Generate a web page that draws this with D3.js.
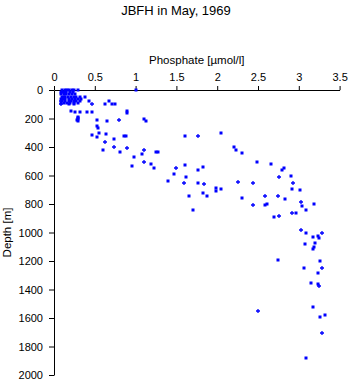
<!DOCTYPE html>
<html>
<head>
<meta charset="utf-8">
<script src="https://cdn.jsdelivr.net/npm/d3@7"></script>
<style>
  html, body { margin: 0; padding: 0; background: #fff; }
  svg { display: block; }
  text { font-family: "Liberation Sans", Arial, Helvetica, sans-serif; }
</style>
</head>
<body>
<svg id="chart" width="350" height="384"></svg>
<script>
// ---- Data (phosphate µmol/l, depth m) ----
const title = "JBFH in May, 1969";
const xLabel = "Phosphate [\u00B5mol/l]";
const yLabel = "Depth [m]";
const xTicks = [0, 0.5, 1, 1.5, 2, 2.5, 3, 3.5];
const xTickLabels = ["0", "0.5", "1", "1.5", "2", "2.5", "3", "3.5"];
const yTicks = [0, 200, 400, 600, 800, 1000, 1200, 1400, 1600, 1800, 2000];
const yTickLabels = ["0", "200", "400", "600", "800", "1000", "1200", "1400", "1600", "1800", "2000"];

// cast A (square markers)
const phosA = [
  0.10,0.13,0.16,0.18,0.22,0.25,0.29,
  0.09,0.11,0.13,0.15,0.20,0.23,
  0.09,0.12,0.15,0.18,0.22,0.26,
  0.10,0.12,0.14,0.17,0.21,0.24,0.27,0.32,
  0.09,0.11,0.14,0.18,0.22,0.26,0.29,0.33,
  0.10,0.14,0.18,0.21,0.24,0.27,0.32,
  0.09,0.12,0.16,0.19,0.24,0.29,
  0.18,0.24,
  1.00,0.38,0.43,0.67,0.62,0.71,0.75,
  0.21,0.26,0.32,0.41,0.47,
  0.29,0.29,0.30,0.28,0.29,
  0.53,0.65,0.89,0.89,1.10,1.13,
  0.53,0.54,0.55,0.64,0.46,0.53,0.74,0.86,0.88,
  1.60,2.05,2.20,2.23,
  0.60,0.81,0.98,0.96,1.08,1.25,1.28,1.19,1.23,
  1.40,1.47,1.61,1.62,1.66,1.70,1.76,1.76,1.83,1.83,1.88,1.98,1.98,2.05,
  2.30,2.30,2.49,2.59,2.61,2.66,2.70,2.80,2.82,2.83,2.91,2.92,2.97,3.01,3.04,3.09,3.19,
  3.09,3.08,3.18,3.20,3.24,3.25,3.19,3.17,
  2.75,3.26,3.06,3.23,3.15,3.24,3.18,3.26,3.32,3.09
];
const depthA = [
  0,0,0,0,0,0,0,
  15,15,15,15,15,15,
  30,30,30,30,30,30,
  46,46,46,46,46,46,46,46,
  63,63,63,63,63,63,63,63,
  77,77,77,77,77,77,77,
  93,93,93,93,93,93,
  100,100,
  0,51,77,77,100,100,100,
  145,152,152,152,152,
  190,197,204,211,218,
  211,219,150,158,205,217,
  253,267,303,310,316,327,345,325,320,
  323,304,402,423,
  424,437,468,533,452,435,435,522,550,
  641,587,526,613,741,842,564,655,542,725,746,690,707,697,
  442,760,505,809,802,522,889,564,550,767,601,692,866,704,816,844,802,
  1006,1081,1034,1071,1027,1041,1104,1116,
  1196,1203,1252,1281,1351,1358,1526,1591,1582,1884
];

// cast B (plus markers)
const phosB = [
  0.08,0.09,0.47,0.80,0.62,1.77,
  0.74,0.89,1.10,1.10,1.49,1.59,1.84,
  2.26,2.44,2.44,2.58,2.76,2.76,2.75,2.93,2.92,3.03,
  3.03,3.28,3.28,3.25,2.50,3.28
];
const depthB = [
  77,100,100,211,365,323,
  402,407,418,508,550,655,662,
  648,655,809,746,884,612,746,655,866,788,
  985,1001,1252,1372,1554,1702
];

// ---- Chart ----
const svg = d3.select("#chart");
const color = "#0000ff";

const x = d3.scaleLinear().domain([0, 3.5]).range([54, 339.6]);
const y = d3.scaleLinear().domain([0, 2000]).range([90, 375]);

svg.append("text")
  .attr("x", 176).attr("y", 15)
  .attr("text-anchor", "middle")
  .attr("font-size", 13)
  .text(title);

svg.append("text")
  .attr("x", (x.range()[0] + x.range()[1]) / 2).attr("y", 64)
  .attr("text-anchor", "middle")
  .attr("font-size", 11.5)
  .text(xLabel);

svg.append("text")
  .attr("transform", `translate(11,${(y.range()[0] + y.range()[1]) / 2}) rotate(-90)`)
  .attr("text-anchor", "middle")
  .attr("font-size", 11.5)
  .text(yLabel);

const xAxis = d3.axisTop(x)
  .tickValues(xTicks)
  .tickFormat((d, i) => xTickLabels[i])
  .tickSizeInner(4).tickSizeOuter(0).tickPadding(5);
const gx = svg.append("g").attr("transform", "translate(0,90)").call(xAxis);

const yAxis = d3.axisLeft(y)
  .tickValues(yTicks)
  .tickFormat((d, i) => yTickLabels[i])
  .tickSizeInner(5).tickSizeOuter(0).tickPadding(6);
const gy = svg.append("g").attr("transform", "translate(54,0)").call(yAxis);

[gx, gy].forEach(g => {
  g.selectAll("text").attr("font-size", 11).attr("fill", "#000")
    .attr("font-family", "'Liberation Sans', Arial, sans-serif");
  g.selectAll("line,path").attr("stroke", "#000").attr("stroke-width", 1);
});

// square markers
const ptsA = phosA.map((v, i) => ({ v, d: depthA[i] }));
svg.append("g").selectAll("rect").data(ptsA).join("rect")
  .attr("x", p => Math.round(x(p.v)) - 1.5)
  .attr("y", p => Math.round(y(p.d)) - 1.5)
  .attr("width", 3).attr("height", 3)
  .attr("fill", color);

// plus markers
const ptsB = phosB.map((v, i) => ({ v, d: depthB[i] }));
svg.append("g").selectAll("path").data(ptsB).join("path")
  .attr("d", p => {
    const cx = Math.round(x(p.v)), cy = Math.round(y(p.d));
    return `M${cx - 2},${cy}H${cx + 2}M${cx},${cy - 2}V${cy + 2}`;
  })
  .attr("stroke", color).attr("stroke-width", 1.3).attr("fill", "none");
</script>
</body>
</html>
